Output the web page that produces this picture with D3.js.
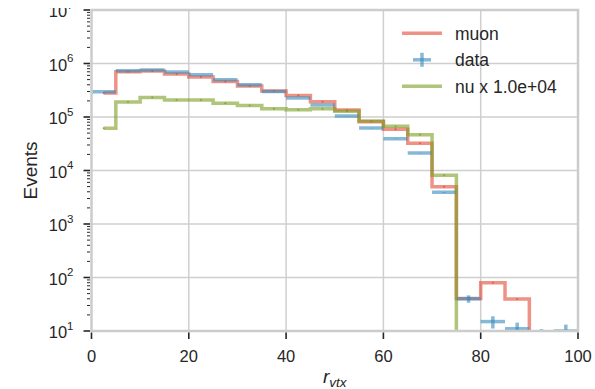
<!DOCTYPE html>
<html>
<head>
<meta charset="utf-8">
<script src="https://cdn.jsdelivr.net/npm/d3@7"></script>
<style>
  body { margin: 0; background: #fff; }
  text { font-family: "Liberation Sans", Arial, sans-serif; fill: #262626; }
</style>
</head>
<body>
<div class="chart"></div>
<script>
// bin edges of r_vtx and the three histograms
const edges = [0, 5, 10, 15, 20, 25, 30, 35, 40, 45, 50, 55, 60, 65, 70, 75, 80, 85, 90, 95, 100];
const muon = [2.81e5, 7.03e5, 7.25e5, 6.37e5, 5.6e5, 4.61e5, 3.8e5, 3.06e5, 2.52e5, 1.93e5,
  1.35e5, 8.17e4, 5.89e4, 3.22e4, 4970, 40.5, 80, 39.6, 0, 0];
const counts = [2.97e5, 7.33e5, 7.56e5, 6.94e5, 6.18e5, 4.98e5, 4.0e5, 3.0e5, 2.27e5, 1.68e5,
  1.04e5, 6.22e4, 3.93e4, 2.12e4, 3920, 40, 15, 11, 8, 10];
const nu = [6.15, 19.1, 23.1, 20.8, 20.8, 18.0, 16.4, 14.2, 13.6, 14.2,
  12.8, 8.41, 6.70, 4.65, 0.813, 0, 0, 0, 0, 0];
const nuScale = 1e4;
const xTicks = [0, 20, 40, 60, 80, 100];
const yTicks = [1e1, 1e2, 1e3, 1e4, 1e5, 1e6, 1e7];
const names = ["muon", "data", "nu x 1.0e+04"];

const colors = { muon: "#E24A33", data: "#348ABD", nu: "#7A9E22" };

let margin = { top: 10, right: 17, bottom: 58, left: 91.5 },
  W = 595, H = 389,
  width = W - margin.left - margin.right,
  height = H - margin.top - margin.bottom;

let root = d3.select(".chart").append("svg")
  .attr("width", W).attr("height", H);

// the figure is cropped a few px above the top spine
root.append("clipPath").attr("id", "figclip")
  .append("rect").attr("x", 0).attr("y", 8).attr("width", W).attr("height", H - 8);

let svg = root.append("g")
  .attr("transform", "translate(" + margin.left + "," + margin.top + ")");

let x = d3.scaleLinear().domain([0, 100]).range([0, width]);
let y = d3.scaleLog().domain([10, 1e7]).range([height, 0]);

// GRID
svg.append("g").selectAll("line").data(xTicks.slice(1, -1)).enter().append("line")
  .attr("x1", d => x(d)).attr("x2", d => x(d)).attr("y1", 0).attr("y2", height)
  .attr("stroke", "#cfcfcf").attr("stroke-width", 1.5);
svg.append("g").selectAll("line").data(yTicks.slice(1, -1)).enter().append("line")
  .attr("y1", d => y(d)).attr("y2", d => y(d)).attr("x1", 0).attr("x2", width)
  .attr("stroke", "#cfcfcf").attr("stroke-width", 1.5);

svg.append("clipPath").attr("id", "clip")
  .append("rect").attr("width", width).attr("height", height);
let plot = svg.append("g").attr("clip-path", "url(#clip)");

const centers = edges.slice(0, -1).map((e, i) => (e + edges[i + 1]) / 2);
const floorVal = v => (v > 0 ? v : 1);

let step = d3.line()
  .x(d => x(d[0]))
  .y(d => y(floorVal(d[1])))
  .curve(d3.curveStep);

function stepHist(vals, color) {
  let pts = centers.map((c, i) => [c, vals[i]]);
  plot.append("path").datum(pts)
    .attr("d", step)
    .attr("fill", "none")
    .attr("stroke", color)
    .attr("stroke-opacity", 0.6)
    .attr("stroke-width", 3.5);
  plot.append("g").selectAll("circle").data(pts.filter(d => d[1] > 0)).enter()
    .append("circle")
    .attr("cx", d => x(d[0])).attr("cy", d => y(d[1])).attr("r", 1)
    .attr("fill", color).attr("fill-opacity", 0.8);
}

// muon
stepHist(muon, colors.muon);

// data with errors
let eb = plot.append("g").selectAll("g").data(counts).enter().append("g");
eb.append("line")
  .attr("x1", (d, i) => x(edges[i])).attr("x2", (d, i) => x(edges[i + 1]))
  .attr("y1", d => y(floorVal(d))).attr("y2", d => y(floorVal(d)));
eb.append("line")
  .attr("x1", (d, i) => x(centers[i])).attr("x2", (d, i) => x(centers[i]))
  .attr("y1", d => y(floorVal(d - Math.sqrt(d))))
  .attr("y2", d => y(d + Math.sqrt(d)));
eb.selectAll("line")
  .attr("stroke", colors.data).attr("stroke-opacity", 0.6).attr("stroke-width", 3.5);

// nu scaled
stepHist(nu.map(v => v * nuScale), colors.nu);

// SPINES
svg.append("rect").attr("width", width).attr("height", height)
  .attr("fill", "none").attr("stroke", "#cccccc").attr("stroke-width", 2.5);

// X AXIS
let xAxisGroup = svg.append("g").attr("transform", "translate(0," + height + ")");
xAxisGroup.selectAll("line").data(xTicks).enter().append("line")
  .attr("x1", d => x(d)).attr("x2", d => x(d)).attr("y1", 1.5).attr("y2", 8)
  .attr("stroke", "#262626").attr("stroke-width", 1.6);
xAxisGroup.selectAll("text").data(xTicks).enter().append("text")
  .attr("x", d => x(d)).attr("y", 31)
  .attr("text-anchor", "middle").attr("font-size", 16.5)
  .text(d => d);

// Y AXIS
let yAxisGroup = svg.append("g");
let minor = [];
for (let k = 1; k < 7; k++) for (let m = 2; m < 10; m++) minor.push(m * Math.pow(10, k));
yAxisGroup.selectAll(".minor").data(minor).enter().append("line")
  .attr("class", "minor")
  .attr("x1", -4.5).attr("x2", -1.5).attr("y1", d => y(d)).attr("y2", d => y(d))
  .attr("stroke", "#262626").attr("stroke-width", 1);
yAxisGroup.selectAll(".major").data(yTicks).enter().append("line")
  .attr("class", "major")
  .attr("x1", -8).attr("x2", -1.5).attr("y1", d => y(d)).attr("y2", d => y(d))
  .attr("stroke", "#262626").attr("stroke-width", 1.6);
let ylab = yAxisGroup.append("g")
  .attr("clip-path", "url(#ylabclip)")
  .selectAll("text").data(yTicks).enter().append("text")
  .attr("x", -18).attr("y", d => y(d) + 7.2)
  .attr("text-anchor", "end").attr("font-size", 16.5);
svg.append("clipPath").attr("id", "ylabclip")
  .append("rect").attr("x", -margin.left).attr("y", 8 - margin.top)
  .attr("width", margin.left).attr("height", H);
ylab.append("tspan").text("10");
ylab.append("tspan").attr("font-size", 11.5).attr("dy", -8.5)
  .text(d => Math.round(Math.log10(d)));

// AXIS LABELS
svg.append("text")
  .attr("transform", "translate(-55," + height / 2 + ") rotate(-90)")
  .attr("text-anchor", "middle").attr("font-size", 19)
  .text("Events");
let xl = svg.append("text")
  .attr("x", width / 2).attr("y", height + 52)
  .attr("text-anchor", "middle").attr("font-size", 19).attr("font-style", "italic");
xl.append("tspan").text("r");
xl.append("tspan").attr("font-size", 13.5).attr("dy", 4).text("vtx");

// LEGEND
let legend = svg.append("g").attr("transform", "translate(" + (402 - margin.left) + "," + (33.3 - margin.top) + ")");
const legColors = [colors.muon, colors.data, colors.nu];
names.forEach((n, i) => {
  let g = legend.append("g").attr("transform", "translate(0," + i * 26.5 + ")");
  if (n === "data") {
    g.append("line").attr("x1", 11).attr("x2", 29).attr("y1", 0).attr("y2", 0);
    g.append("line").attr("x1", 20).attr("x2", 20).attr("y1", -7).attr("y2", 7);
  } else {
    g.append("line").attr("x1", 0).attr("x2", 40).attr("y1", 0).attr("y2", 0);
  }
  g.selectAll("line").attr("stroke", legColors[i]).attr("stroke-opacity", 0.6).attr("stroke-width", 3.5);
  g.append("text").attr("x", 53).attr("y", 6.2).attr("font-size", 17.5).text(n);
});
</script>
</body>
</html>
